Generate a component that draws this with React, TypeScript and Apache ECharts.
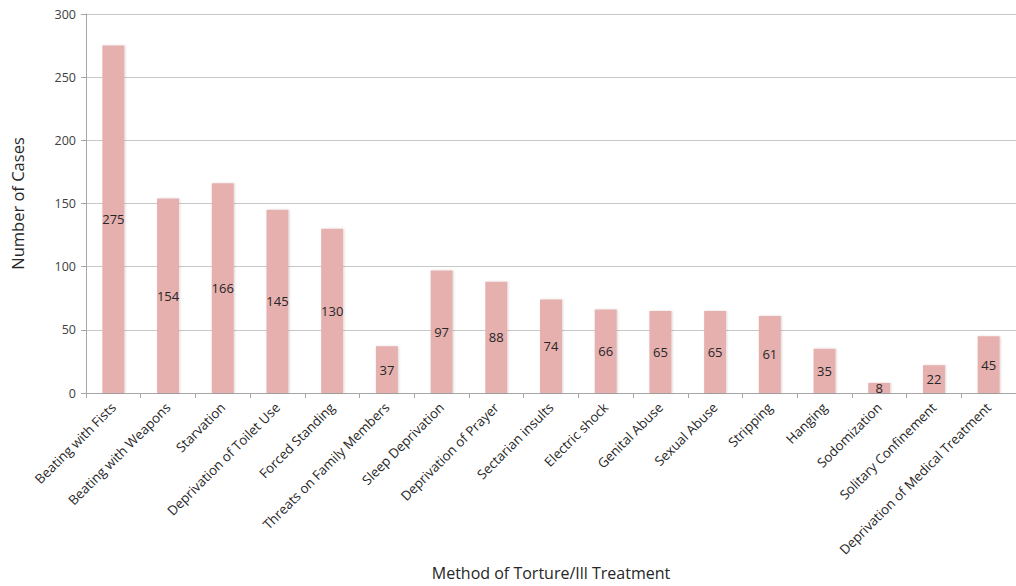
import React, { useEffect, useRef } from "react";
import * as echarts from "echarts";

const categories = [
  "Beating with Fists",
  "Beating with Weapons",
  "Starvation",
  "Deprivation of Toilet Use",
  "Forced Standing",
  "Threats on Family Members",
  "Sleep Deprivation",
  "Deprivation of Prayer",
  "Sectarian insults",
  "Electric shock",
  "Genital Abuse",
  "Sexual Abuse",
  "Stripping",
  "Hanging",
  "Sodomization",
  "Solitary Confinement",
  "Deprivation of Medical Treatment",
];

const cases = [275, 154, 166, 145, 130, 37, 97, 88, 74, 66, 65, 65, 61, 35, 8, 22, 45];

const yTicks = [0, 50, 100, 150, 200, 250, 300];

export default function App() {
  const ref = useRef<HTMLDivElement>(null);
  useEffect(() => {
    if (!ref.current) return;
    const chart = echarts.init(ref.current, undefined, { renderer: "svg" });
    const font = "'Open Sans', 'Noto Sans', sans-serif";
    chart.setOption({
      animation: false,
      textStyle: { fontFamily: font },
      grid: { left: 86, top: 14, width: 939.6, height: 382.5, containLabel: false },
      xAxis: {
        type: "category",
        data: categories,
        name: "Method of Torture/Ill Treatment",
        nameLocation: "middle",
        nameGap: 172,
        nameTextStyle: { fontSize: 16, color: "#262626", fontFamily: font },
        axisLine: { lineStyle: { color: "#a6a6a6" } },
        axisTick: { show: true, alignWithLabel: false, length: 5, lineStyle: { color: "#a6a6a6" } },
        axisLabel: {
          rotate: 45,
          interval: 0,
          fontSize: 13.3,
          color: "#262626",
          fontFamily: font,
          margin: 12,
        },
      },
      yAxis: {
        type: "value",
        min: 0,
        max: yTicks[yTicks.length - 1],
        interval: 50,
        name: "Number of Cases",
        nameLocation: "middle",
        nameGap: 60,
        nameTextStyle: { fontSize: 16.5, color: "#262626", fontFamily: font },
        axisLine: { show: true, lineStyle: { color: "#a6a6a6" } },
        axisTick: { show: true, length: 5, lineStyle: { color: "#a6a6a6" } },
        axisLabel: { fontSize: 12.5, color: "#404040", fontFamily: font, margin: 10 },
        splitLine: { lineStyle: { color: "#c8c8c8" } },
      },
      series: [
        {
          type: "bar",
          data: cases,
          barWidth: 22,
          itemStyle: {
            color: "#e6b0af",
            shadowColor: "rgba(0,0,0,0.15)",
            shadowBlur: 2,
            shadowOffsetX: 1,
            shadowOffsetY: 0,
          },
          label: {
            show: true,
            position: "inside",
            fontSize: 13,
            color: "#262626",
            fontFamily: font,
          },
        },
      ],
    });
    return () => chart.dispose();
  }, []);
  return <div ref={ref} style={{ width: 1016, height: 586, position: "absolute", left: 0, top: 0 }} />;
}
